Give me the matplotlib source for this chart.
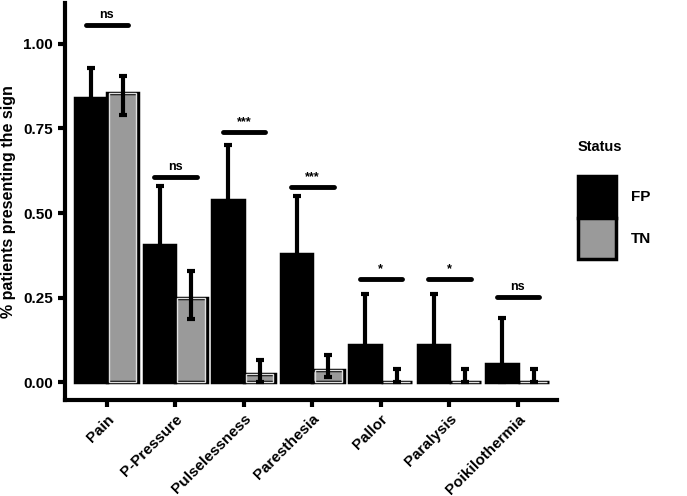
import matplotlib.pyplot as plt
import numpy as np

signs = ["Pain", "P-Pressure", "Pulselessness", "Paresthesia", "Pallor", "Paralysis", "Poikilothermia"]
fp_mean = [0.84, 0.405, 0.54, 0.38, 0.11, 0.11, 0.055]
fp_low = [0.67, 0.25, 0.37, 0.23, 0.03, 0.03, 0.0]
fp_high = [0.93, 0.58, 0.70, 0.55, 0.26, 0.26, 0.19]
tn_mean = [0.855, 0.25, 0.025, 0.038, 0.0, 0.0, 0.0]
tn_low = [0.79, 0.187, 0.0, 0.015, 0.0, 0.0, 0.0]
tn_high = [0.905, 0.33, 0.067, 0.082, 0.04, 0.04, 0.04]
sig_labels = ["ns", "ns", "***", "***", "*", "*", "ns"]
sig_y = [1.055, 0.606, 0.74, 0.577, 0.306, 0.306, 0.253]

plt.rcParams["font.family"] = ["Liberation Sans", "DejaVu Sans"]
plt.rcParams["font.weight"] = "bold"

fig = plt.figure(figsize=(6.87, 4.96), dpi=100)
ax = fig.add_axes([0.0946, 0.1935, 0.716, 0.80])

x = np.arange(len(signs))
w = 0.46
fp_x = x - w / 2
tn_x = x + w / 2

ax.bar(fp_x, fp_mean, w, color="black", edgecolor="black", linewidth=2.5, label="FP")
ax.bar(tn_x, tn_mean, w, color="#9a9a9a", edgecolor="black", linewidth=2.5, label="TN")
ax.bar(tn_x, tn_mean, w * 0.86, color="none", edgecolor="#e0e0e0", linewidth=1)

fp_err = [np.array(fp_mean) - np.array(fp_low), np.array(fp_high) - np.array(fp_mean)]
tn_err = [np.array(tn_mean) - np.array(tn_low), np.array(tn_high) - np.array(tn_mean)]
ax.errorbar(fp_x, fp_mean, yerr=fp_err, fmt="none", ecolor="black", elinewidth=3, capsize=3, capthick=3)
ax.errorbar(tn_x, tn_mean, yerr=tn_err, fmt="none", ecolor="black", elinewidth=3, capsize=3, capthick=3)

for i in range(len(signs)):
    ax.plot([x[i] - 0.31, x[i] + 0.31], [sig_y[i], sig_y[i]], color="black", lw=3.5, solid_capstyle="round")
    ax.text(x[i], sig_y[i] + 0.012, sig_labels[i], ha="center", va="bottom", fontsize=9, fontweight="bold")

ax.set_xlim(-0.61, 6.57)
ax.set_ylim(-0.052, 1.12)
ax.set_yticks([0, 0.25, 0.5, 0.75, 1.0])
ax.set_yticklabels(["0.00", "0.25", "0.50", "0.75", "1.00"], fontsize=11, fontweight="bold")
ax.set_xticks(x)
ax.set_xticklabels(signs, rotation=45, ha="right", rotation_mode="anchor", fontsize=11, fontweight="bold")
ax.set_ylabel("% patients presenting the sign", fontsize=11.5, fontweight="bold", labelpad=5)
ax.spines["top"].set_visible(False)
ax.spines["right"].set_visible(False)
ax.spines["left"].set_linewidth(3)
ax.spines["bottom"].set_linewidth(3)
ax.tick_params(width=3, length=5, colors="black")

leg = ax.legend(title="Status", loc="center left", bbox_to_anchor=(1.03, 0.505), frameon=False,
                handlelength=2.5, handleheight=3.8, fontsize=11,
                title_fontproperties={"weight": "bold", "size": 10.5},
                labelspacing=0.0, handletextpad=1.0, borderaxespad=0)
leg._legend_box.align = "left"
leg._legend_box.sep = 16

fig.savefig("out.png", dpi=100)
